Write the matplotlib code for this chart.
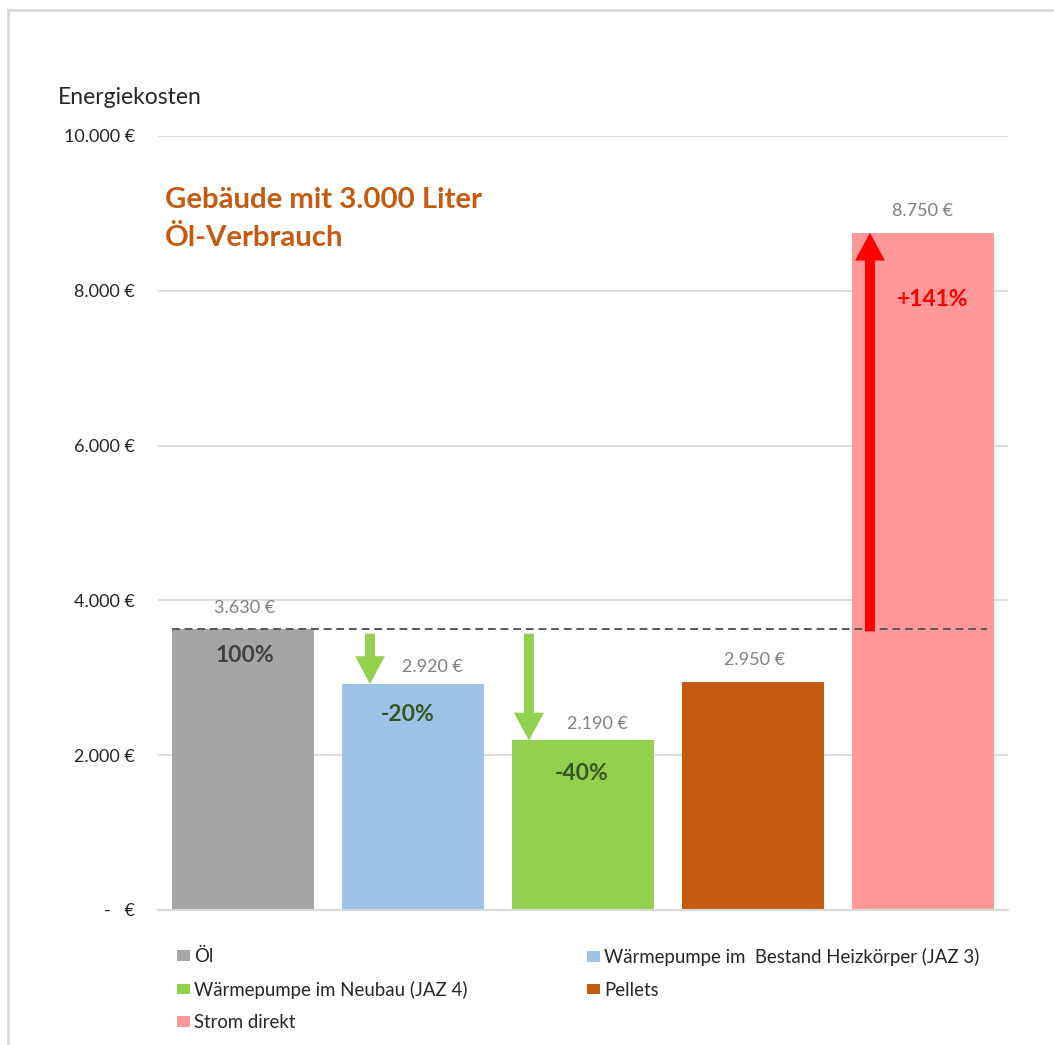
import matplotlib
matplotlib.use("Agg")
import matplotlib.pyplot as plt
from matplotlib.lines import Line2D
from matplotlib.ticker import FixedLocator

plt.rcParams['font.family'] = ['Lato', 'DejaVu Sans']

# ---- data ----
categories = ["Öl", "Wärmepumpe im  Bestand Heizkörper (JAZ 3)",
              "Wärmepumpe im Neubau (JAZ 4)", "Pellets", "Strom direkt"]
values = [3630, 2920, 2190, 2950, 8750]
value_labels = ["3.630 €", "2.920 €", "2.190 €", "2.950 €", "8.750 €"]
pct_labels = ["100%", "-20%", "-40%", "", "+141%"]
yticks = [0, 2000, 4000, 6000, 8000, 10000]
ytick_labels = ["-   €", "2.000 €", "4.000 €", "6.000 €", "8.000 €", "10.000 €"]

# ---- style ----
colors = ["#A5A5A5", "#9DC3E6", "#92D050", "#C55A11", "#FF9999"]
pct_colors = ["#404040", "#375623", "#375623", "#375623", "#FF0000"]
label_dx = [2, 19, 14, 2, 0]          # px offsets of value labels
label_dy = [21, 17, 16, 22, 22]
pct_offset = [(2, -26), (-5, -31), (-1, -33), (0, -30), (10, -67)]  # px

W, H = 1054, 1045
fig = plt.figure(figsize=(W / 100, H / 100), dpi=100)
ax = fig.add_axes([158 / W, 1 - 910 / H, 850 / W, (910 - 136) / H])

x = list(range(len(values)))
bars = ax.bar(x, values, width=0.835, color=colors, zorder=2)
ax.set_xlim(-0.5, len(values) - 0.5)
ax.set_ylim(0, 10000)

ax.yaxis.set_major_locator(FixedLocator(yticks))
ax.set_yticklabels(ytick_labels, fontsize=13, color="#262626")
ax.tick_params(axis='y', length=0, pad=16.5)
ax.set_xticks([])
for s in ["top", "right", "left"]:
    ax.spines[s].set_visible(False)
ax.spines["bottom"].set_color("#D9D9D9")
ax.spines["bottom"].set_linewidth(1.5)
ax.grid(axis='y', color="#D9D9D9", linewidth=1.3, zorder=0)
ax.set_axisbelow(True)

px = 72 / 100  # points per pixel

# value labels
for i, v in enumerate(values):
    ax.annotate(value_labels[i], (i, v), xytext=(label_dx[i] * px, label_dy[i] * px),
                textcoords="offset points", ha="center", va="center",
                fontsize=13, color="#808080")

# percent labels
for i, v in enumerate(values):
    if pct_labels[i]:
        ax.annotate(pct_labels[i], (i, v),
                    xytext=(pct_offset[i][0] * px, pct_offset[i][1] * px),
                    textcoords="offset points", ha="center", va="center",
                    fontsize=16.5, fontweight="bold", color=pct_colors[i])

# reference dashed line at Öl level
ref = values[0]
ax.plot([-0.5 + (1 - 0.835) / 2, len(values) - 1 + 0.375], [ref, ref],
        linestyle=(0, (4, 2.5)), color="#595959", linewidth=1.4, zorder=3)

# arrows
def arrow(xpos, y0, y1, color):
    ax.annotate("", xy=(xpos, y1), xytext=(xpos, y0),
                arrowprops=dict(arrowstyle="simple,head_width=2.15,head_length=2.0,tail_width=0.72",
                                color=color, lw=0, shrinkA=0, shrinkB=0,
                                mutation_scale=10), zorder=4)

arrow(1 - 0.253, ref - 60, values[1], "#92D050")
arrow(2 - 0.318, ref - 60, values[2], "#92D050")
arrow(4 - 0.312, ref - 30, values[4], "#FF0000")

# texts
fig.text(58 / W, 1 - 97 / H, "Energiekosten", fontsize=16.5, color="#262626",
         ha="left", va="center")
fig.text(165 / W, 1 - 219 / H, "Gebäude mit 3.000 Liter\nÖl-Verbrauch",
         fontsize=21.2, fontweight="bold", color="#C55A11", ha="left",
         va="center", linespacing=1.55)

# legend (two single-column legends, row-major order like the original)
handles = list(bars.patches)
col1 = [0, 2, 4]
col2 = [1, 3]
common = dict(loc="upper left", frameon=False, borderpad=0, borderaxespad=0,
              handlelength=0.7, handleheight=0.48, handletextpad=0.2,
              labelspacing=0.83, fontsize=13.4, labelcolor="#262626")
fig.legend([handles[i] for i in col1], [categories[i] for i in col1],
           bbox_to_anchor=(177 / W, 1 - 948 / H), **common)
fig.legend([handles[i] for i in col2], [categories[i] for i in col2],
           bbox_to_anchor=(587 / W, 1 - 948 / H), **common)

# figure border (top and left)
fig.add_artist(Line2D([8 / W, 1], [1 - 10 / H, 1 - 10 / H], color="#D9D9D9",
                      linewidth=2, transform=fig.transFigure))
fig.add_artist(Line2D([8 / W, 8 / W], [0, 1 - 10 / H], color="#D9D9D9",
                      linewidth=2, transform=fig.transFigure))

fig.savefig("out.png", dpi=100)
